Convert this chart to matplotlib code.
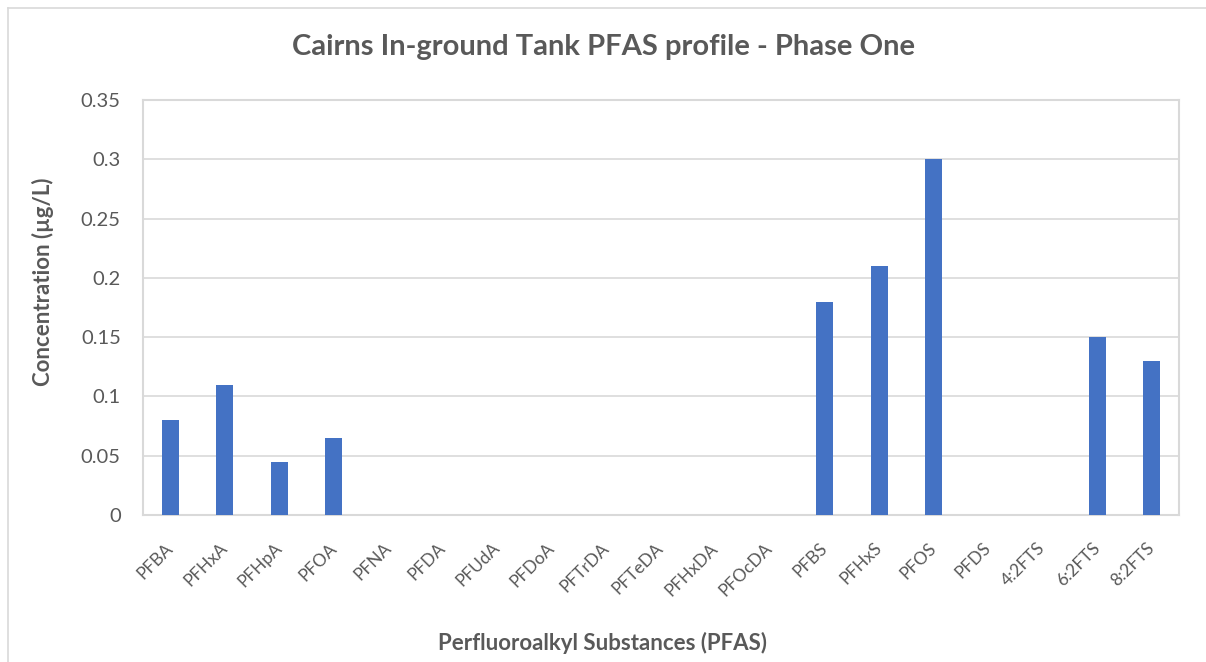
import numpy as np
import matplotlib.pyplot as plt
from matplotlib.lines import Line2D

plt.rcParams['font.family'] = ['Lato', 'DejaVu Sans']

compounds = ['PFBA', 'PFHxA', 'PFHpA', 'PFOA', 'PFNA', 'PFDA', 'PFUdA', 'PFDoA',
             'PFTrDA', 'PFTeDA', 'PFHxDA', 'PFOcDA', 'PFBS', 'PFHxS', 'PFOS',
             'PFDS', '4:2FTS', '6:2FTS', '8:2FTS']
concentration = [0.08, 0.11, 0.045, 0.065, 0, 0, 0, 0, 0, 0, 0, 0,
                 0.18, 0.21, 0.30, 0, 0, 0.15, 0.13]
yticks = [0, 0.05, 0.1, 0.15, 0.2, 0.25, 0.3, 0.35]
ytick_labels = ['0', '0.05', '0.1', '0.15', '0.2', '0.25', '0.3', '0.35']

grey = '#595959'
grid_col = '#d9d9d9'

fig = plt.figure(figsize=(12.06, 6.62), dpi=100)
ax = fig.add_axes([0.1186, 0.222, 0.859, 0.627])

x = np.arange(len(compounds))
ax.bar(x, concentration, width=0.31, color='#4472c4', zorder=3)

ax.set_xlim(-0.5, len(compounds) - 0.5)
ax.set_ylim(0, 0.35)
ax.set_yticks(yticks)
ax.set_yticklabels(ytick_labels, fontsize=14.5, color=grey)
ax.set_xticks(x)
ax.set_xticklabels(compounds, fontsize=12.5, color=grey, rotation=45,
                   ha='right', va='center', rotation_mode='anchor')
ax.tick_params(axis='x', length=0, pad=22)
ax.tick_params(axis='y', length=0, pad=16)
ax.grid(axis='y', color=grid_col, linewidth=1.2, zorder=0)
for s in ax.spines.values():
    s.set_color(grid_col)
    s.set_linewidth(1.5)

fig.text(0.5, 0.929, 'Cairns In-ground Tank PFAS profile - Phase One',
         ha='center', va='center', fontsize=21, fontweight='bold', color=grey)
fig.text(0.036, 0.574, 'Concentration (µg/L)', rotation=90, ha='center',
         va='center', fontsize=16, fontweight='bold', color=grey)
fig.text(0.5, 0.029, 'Perfluoroalkyl Substances (PFAS)', ha='center',
         va='center', fontsize=16, fontweight='bold', color=grey)

# outer chart border (partially cropped in the original)
fig.add_artist(Line2D([0.0066, 1.0], [0.988, 0.988], color=grid_col, lw=1.2))
fig.add_artist(Line2D([0.0066, 0.0066], [0, 0.988], color=grid_col, lw=1.2))

fig.savefig('out.png', dpi=100)
